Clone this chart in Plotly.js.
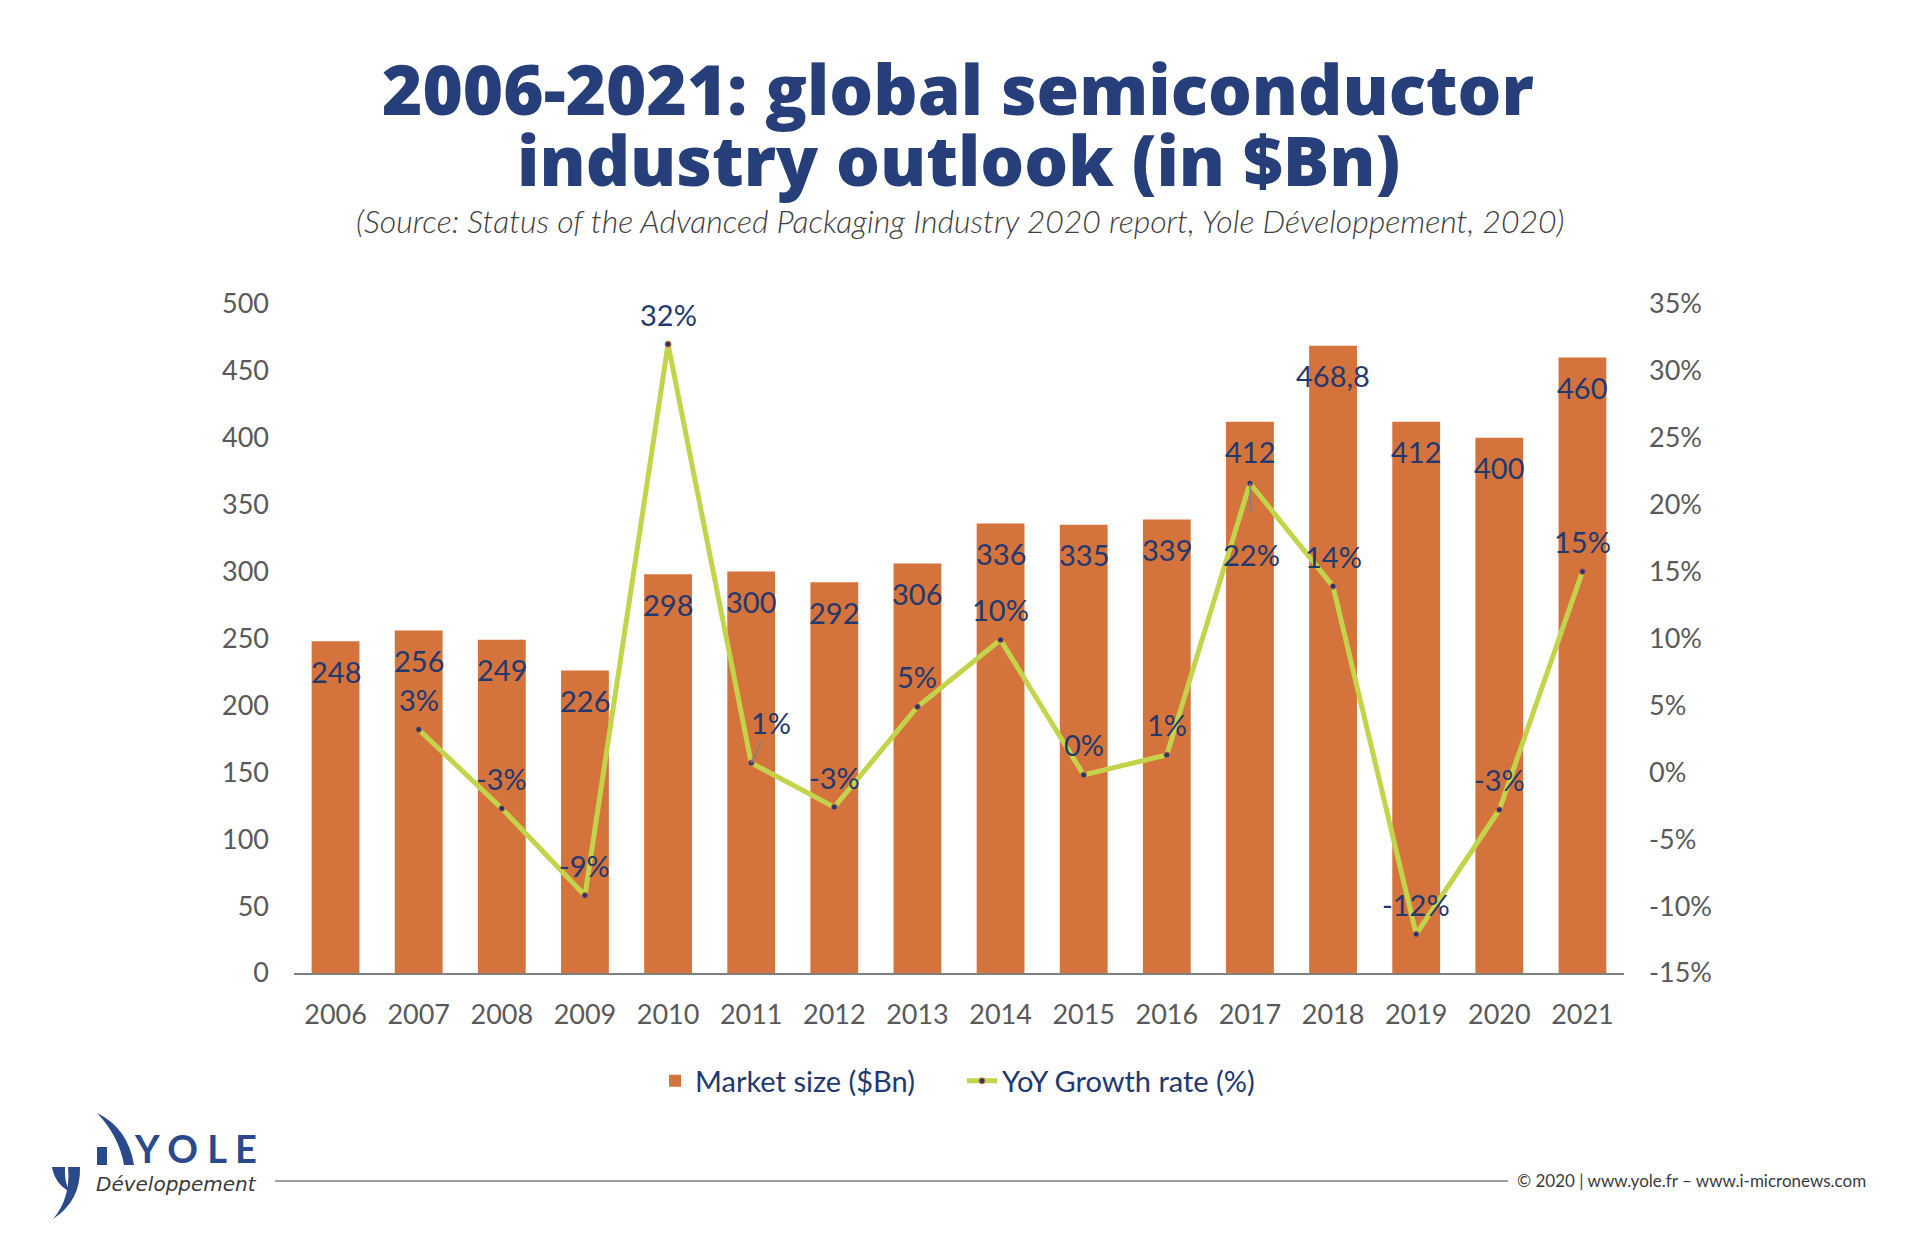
<!DOCTYPE html>
<html>
<head>
<meta charset="utf-8">
<script src="https://cdn.plot.ly/plotly-3.0.1.min.js"></script>
<style>
  html, body { margin: 0; padding: 0; background: #ffffff; }
  #chart { width: 1920px; height: 1240px; }
</style>
</head>
<body>
<div id="chart"></div>
<script>
// ---- Data ----
const years = ['2006','2007','2008','2009','2010','2011','2012','2013','2014','2015','2016','2017','2018','2019','2020','2021'];
const marketSize = [248, 256, 249, 226, 298, 300, 292, 306, 336, 335, 339, 412, 468.8, 412, 400, 460];
const marketLabels = ['248','256','249','226','298','300','292','306','336','335','339','412','468,8','412','400','460'];
const growthYears = ['2007','2008','2009','2010','2011','2012','2013','2014','2015','2016','2017','2018','2019','2020','2021'];
const growthRate = [3.2, -2.7, -9.2, 32.0, 0.7, -2.6, 4.9, 9.9, -0.2, 1.3, 21.6, 13.9, -12.1, -2.8, 15.0];
const growthLabels = ['3%','-3%','-9%','32%','1%','-3%','5%','10%','0%','1%','22%','14%','-12%','-3%','15%'];
const leftTicks = [0, 50, 100, 150, 200, 250, 300, 350, 400, 450, 500];
const rightTicks = [-15, -10, -5, 0, 5, 10, 15, 20, 25, 30, 35];

// ---- Styling ----
const NAVY = '#22396F';
const TITLE_NAVY = '#263F7A';
const GRAY = '#595959';
const ORANGE = '#D5733C';
const GREEN = '#C3D44A';
const FONT = 'Lato, "Open Sans", sans-serif';
const TITLE_FONT = '"Open Sans", Lato, sans-serif';

// plot area in pixels
const L = 294, R = 1624, T = 304, B = 973;
const W = R - L, H = B - T;
const px = x => (x - L) / W;
const py = y => (B - y) / H;

const bars = {
  type: 'bar', name: 'Market size ($Bn)',
  x: years, y: marketSize,
  marker: { color: ORANGE },
  width: 0.575, hoverinfo: 'skip', yaxis: 'y'
};
const line = {
  type: 'scatter', mode: 'lines+markers', name: 'YoY Growth rate (%)',
  x: growthYears, y: growthRate, yaxis: 'y2',
  line: { color: GREEN, width: 5 },
  marker: { color: NAVY, size: 6, line: { color: ORANGE, width: 1 } },
  hoverinfo: 'skip'
};

const annotations = [];
// bar value labels (x given as category index)
years.forEach((yr, i) => {
  annotations.push({
    x: i, y: marketSize[i], xref: 'x', yref: 'y',
    xanchor: 'center', yanchor: 'middle',
    text: marketLabels[i], showarrow: false, yshift: -30,
    font: { family: FONT, size: 29, color: NAVY }
  });
});
// growth labels
growthYears.forEach((yr, i) => {
  const a = {
    x: years.indexOf(yr), y: growthRate[i], xref: 'x', yref: 'y2',
    xanchor: 'center', yanchor: 'middle',
    text: growthLabels[i], showarrow: false, yshift: 30,
    font: { family: FONT, size: 29, color: NAVY }
  };
  if (yr === '2011') {
    Object.assign(a, { showarrow: true, ax: 20, ay: -40, arrowhead: 0, arrowwidth: 1.5, arrowcolor: '#7f7f7f', yshift: 0 });
  }
  if (yr === '2017') {
    Object.assign(a, { showarrow: true, ax: 2, ay: 71, arrowhead: 0, arrowwidth: 1.5, arrowcolor: '#7f7f7f', yshift: 0, startstandoff: 22 });
  }
  annotations.push(a);
});

const paperText = (x, y, text, font, xanchor) => ({
  xref: 'paper', yref: 'paper', x: px(x), y: py(y), text: text, showarrow: false,
  xanchor: xanchor || 'center', yanchor: 'middle', font: font, borderpad: 0
});

// titles, footer, logo text
annotations.push(
  paperText(958, 88, '2006-2021: global semiconductor', { family: TITLE_FONT, size: 69, color: TITLE_NAVY, weight: 800 }),
  paperText(958, 159, 'industry outlook (in $Bn)', { family: TITLE_FONT, size: 69, color: TITLE_NAVY, weight: 800 }),
  paperText(960, 220, '<i>(Source: Status of the Advanced Packaging Industry 2020 report, Yole Développement, 2020)</i>',
    { family: FONT, size: 32, color: '#404040', weight: 300 }),
  paperText(1867, 1180, '© 2020 | www.yole.fr – www.i-micronews.com', { family: FONT, size: 17, color: '#3a3a3a' }, 'right'),
  paperText(133, 1148, '<b>Y O L E</b>', { family: FONT, size: 38, color: '#2B4A8B' }, 'left'),
  paperText(95, 1184, '<i>Développement</i>', { family: '"DejaVu Sans", sans-serif', size: 20, color: '#3a3a3a' }, 'left')
);

const logoColor = '#2B4A8B';
const P = (x, y) => px(x).toFixed(5) + ',' + py(y).toFixed(5);
const shapes = [
  // footer rule
  { type: 'line', xref: 'paper', yref: 'paper', x0: px(275), x1: px(1508), y0: py(1181), y1: py(1181),
    line: { color: '#7f7f7f', width: 1.5 } },
  // logo arch
  { type: 'path', xref: 'paper', yref: 'paper', fillcolor: logoColor, line: { width: 0 },
    path: `M${P(97,1113)} Q${P(128,1128)} ${P(134,1165)} L${P(124,1165)} Q${P(119,1136)} ${P(97,1113)} Z` },
  // logo small bar
  { type: 'rect', xref: 'paper', yref: 'paper', fillcolor: logoColor, line: { width: 0 },
    x0: px(97), x1: px(107), y0: py(1147), y1: py(1165) },
  // logo y left
  { type: 'path', xref: 'paper', yref: 'paper', fillcolor: logoColor, line: { width: 0 },
    path: `M${P(52,1167)} L${P(65,1167)} Q${P(64,1182)} ${P(70,1192)} Q${P(55,1184)} ${P(52,1167)} Z` },
  // logo y right sweep
  { type: 'path', xref: 'paper', yref: 'paper', fillcolor: logoColor, line: { width: 0 },
    path: `M${P(68,1167)} L${P(80,1167)} Q${P(81,1201)} ${P(53,1219)} Q${P(71,1198)} ${P(68,1167)} Z` }
];

const layout = {
  width: 1920, height: 1240,
  margin: { l: L, r: 1920 - R, t: T, b: 1240 - B, pad: 0 },
  paper_bgcolor: '#ffffff', plot_bgcolor: '#ffffff',
  font: { family: FONT, color: GRAY },
  showlegend: true,
  legend: {
    orientation: 'h', x: px(962), xanchor: 'center', y: py(1081), yanchor: 'middle',
    font: { family: FONT, size: 29, color: NAVY }, traceorder: 'normal', itemwidth: 30,
    entrywidth: 262
  },
  xaxis: {
    type: 'category', categoryorder: 'array', categoryarray: years,
    range: [-0.5, years.length - 0.5], autorange: false,
    showline: true, linecolor: '#808080', linewidth: 2,
    showgrid: false, zeroline: false, ticks: '',
    tickfont: { family: FONT, size: 27, color: GRAY }, ticklabelstandoff: 17
  },
  yaxis: {
    range: [0, 500], autorange: false, tickvals: leftTicks, showgrid: false, zeroline: false, showline: false,
    ticks: '', tickfont: { family: FONT, size: 27, color: GRAY }, ticklabelstandoff: 24
  },
  yaxis2: {
    range: [-15, 35], autorange: false, tickvals: rightTicks, ticktext: rightTicks.map(v => v + '%'),
    overlaying: 'y', side: 'right', showgrid: false, zeroline: false, showline: false,
    ticks: '', tickfont: { family: FONT, size: 27, color: GRAY }, ticklabelstandoff: 24
  },
  annotations: annotations,
  shapes: shapes
};

Plotly.newPlot('chart', [bars, line], layout, { displayModeBar: false, staticPlot: true });
</script>
</body>
</html>
